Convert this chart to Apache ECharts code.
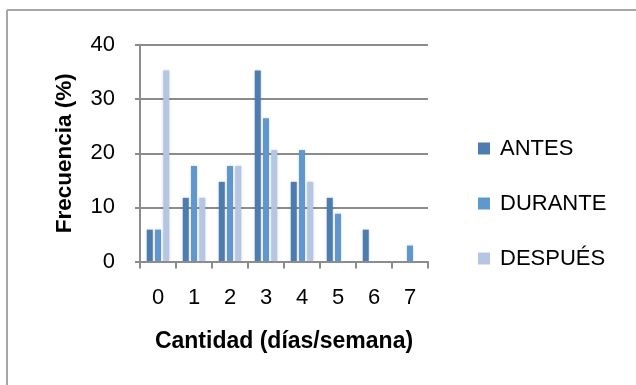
<!DOCTYPE html>
<html>
<head>
<meta charset="utf-8">
<script src="https://cdn.jsdelivr.net/npm/echarts@6/dist/echarts.min.js"></script>
<style>
html,body{margin:0;padding:0;background:#fff;}
#chart{width:636px;height:385px;}
</style>
</head>
<body>
<div id="chart"></div>
<script>
var categories = ['0','1','2','3','4','5','6','7'];
var antes    = [5.88, 11.76, 14.71, 35.29, 14.71, 11.76, 5.88, 0];
var durante  = [5.88, 17.65, 17.65, 26.47, 20.59, 8.82, 0, 2.94];
var despues  = [35.29, 11.76, 17.65, 20.59, 14.71, 0, 0, 0];
var seriesNames = ['ANTES', 'DURANTE', 'DESPUÉS'];
var yTicks = [0, 10, 20, 30, 40];

var FONT = "'Liberation Sans', Arial, sans-serif";
var colors = ['#4d7cb1', '#5f98cf', '#b5c6e3'];

var chart = echarts.init(document.getElementById('chart'), null, {renderer: 'canvas'});

function mkSeries(name, data, color) {
  return {
    name: name,
    type: 'bar',
    data: data,
    barWidth: 6,
    barGap: '37%',
    itemStyle: {
      color: color,
      shadowColor: 'rgba(0,0,0,0.18)',
      shadowBlur: 3
    }
  };
}

chart.setOption({
  animation: false,
  textStyle: {fontFamily: FONT},
  grid: {left: 140, right: 208, top: 45, bottom: 123.5, containLabel: false},
  graphic: [
    {type: 'line', shape: {x1: 7, y1: 10, x2: 636, y2: 10}, style: {stroke: '#a6a6a6', lineWidth: 2}},
    {type: 'line', shape: {x1: 7, y1: 10, x2: 7, y2: 385}, style: {stroke: '#a6a6a6', lineWidth: 2}}
  ],
  legend: {
    orient: 'vertical',
    left: 478,
    top: 134,
    padding: 0,
    itemWidth: 12,
    itemHeight: 12,
    itemGap: 26,
    icon: 'rect',
    data: seriesNames,
    textStyle: {fontFamily: FONT, fontSize: 22, color: '#000', lineHeight: 24, padding: [5, 0, 0, 5]}
  },
  xAxis: {
    type: 'category',
    data: categories,
    z: 5,
    name: 'Cantidad (días/semana)',
    nameLocation: 'middle',
    nameGap: 69,
    nameTextStyle: {fontFamily: FONT, fontSize: 23, fontWeight: 'bold', color: '#000'},
    axisLine: {lineStyle: {color: '#8c8c8c', width: 2}},
    axisTick: {show: true, length: 7, interval: 0, lineStyle: {color: '#8c8c8c', width: 2}},
    axisLabel: {fontFamily: FONT, fontSize: 22, color: '#000', margin: 25, interval: 0},
    splitLine: {show: false}
  },
  yAxis: {
    type: 'value',
    min: 0,
    max: 40,
    interval: 10,
    name: 'Frecuencia (%)',
    nameLocation: 'middle',
    nameGap: 64,
    nameTextStyle: {fontFamily: FONT, fontSize: 22.5, fontWeight: 'bold', color: '#000'},
    axisLine: {show: true, lineStyle: {color: '#8c8c8c', width: 2}},
    axisTick: {show: true, length: 5, lineStyle: {color: '#8c8c8c', width: 2}},
    axisLabel: {fontFamily: FONT, fontSize: 22, color: '#000', margin: 25, padding: [12, 0, 0, 0],
      formatter: function (v) { return yTicks.indexOf(v) >= 0 ? String(v) : ''; }},
    splitLine: {show: true, lineStyle: {color: '#8c8c8c', width: 2}}
  },
  series: [
    mkSeries(seriesNames[0], antes, colors[0]),
    mkSeries(seriesNames[1], durante, colors[1]),
    mkSeries(seriesNames[2], despues, colors[2])
  ]
});
</script>
</body>
</html>
